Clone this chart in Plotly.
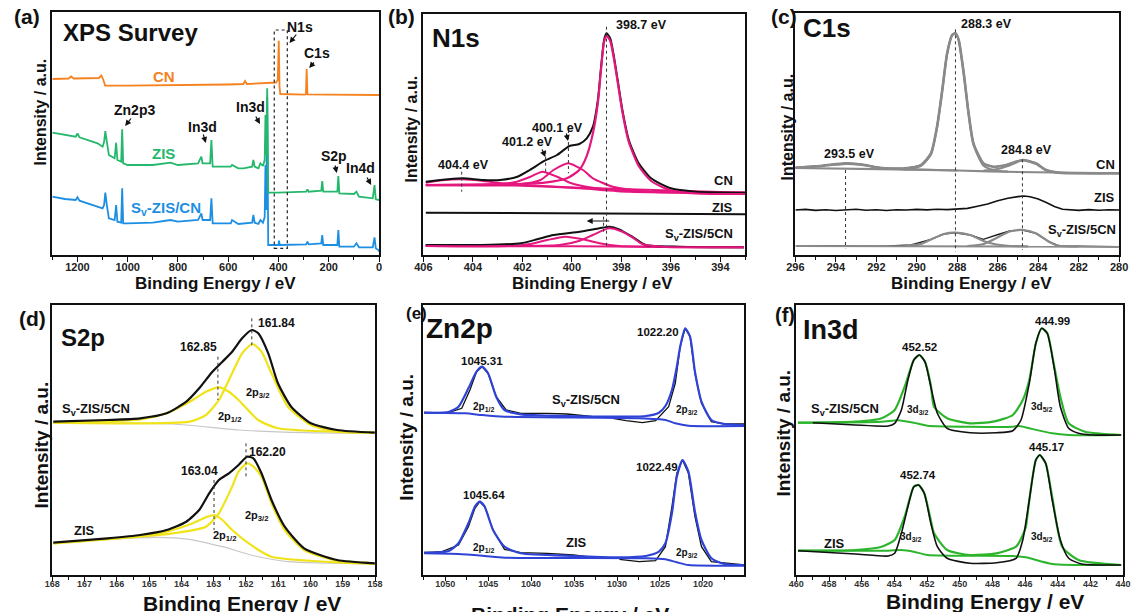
import plotly.graph_objects as go

W, H = 1138, 612
FONT = "Liberation Sans, Arial, Helvetica, sans-serif"

# ======================= DATA (binding energy eV, intensity a.u.) =======================
# (a) XPS survey
SURVEY_CN = [(1300, 176), (1235, 176.5), (1225, 178.5), (1215, 176.5), (1115, 177), (1105, 179.5),
             (1098, 176), (1090, 169.5), (1000, 169.3), (800, 169.7), (600, 170.5), (540, 171),
             (533, 174), (526, 171), (430, 171.7), (410, 172.5), (403, 175), (399, 214.3),
             (396, 168), (393, 161), (295, 160.3), (291, 161), (288, 186), (285, 160.7),
             (200, 160.3), (0, 160)]
SURVEY_ZIS = [(1300, 122.3), (1250, 120), (1207, 118.3), (1200, 121.5), (1192, 117.7), (1120, 111.7),
              (1100, 108.3), (1094, 113), (1089, 124), (1084, 115), (1075, 100), (1052, 96.7),
              (1046, 112.3), (1041, 95), (1026, 93.3), (1022, 125.7), (1018, 91.7), (1000, 90),
              (900, 90), (830, 92.3), (800, 90), (720, 91.7), (707, 98.3), (702, 91.7), (672, 91.7),
              (667, 115), (662, 88.3), (590, 88.3), (585, 90), (560, 86.7), (540, 86.7), (505, 88.3),
              (500, 95), (495, 88.3), (480, 86.7), (472, 91.7), (462, 89), (455, 95), (452, 140),
              (449, 100), (445, 166.7), (441, 62.3), (400, 62.3), (290, 63.3), (285, 65.7),
              (280, 63.3), (230, 64.3), (226, 74), (222, 63.3), (166, 63.3), (162, 79), (158, 61.7),
              (100, 61), (90, 63.3), (80, 58.3), (25, 56.7), (18, 70), (13, 55.7), (0, 55)]
SURVEY_SV = [(1300, 58.3), (1250, 56), (1207, 55), (1200, 57.7), (1192, 54.3), (1120, 48.3),
             (1100, 46.7), (1094, 50), (1089, 62.3), (1084, 51.7), (1075, 36.7), (1052, 35),
             (1046, 50), (1041, 33.3), (1026, 32.3), (1022, 66.7), (1018, 31.7), (1000, 31.7),
             (900, 32.3), (830, 35), (800, 33.3), (720, 35), (707, 41.7), (702, 35), (672, 35),
             (667, 56.7), (662, 31.7), (590, 31.7), (585, 35), (560, 31), (505, 32.3), (500, 40),
             (495, 32.3), (480, 31), (472, 35), (462, 32.3), (455, 38), (452, 90), (449, 45),
             (445, 158), (441, 10), (400, 10), (398, 14.3), (395, 10), (290, 10.7), (285, 13.3),
             (280, 10.7), (230, 11.7), (226, 20), (222, 10), (166, 10), (162, 25), (158, 8.3),
             (100, 8.3), (90, 11.7), (80, 7.7), (25, 7.7), (18, 17.7), (13, 6.7), (3, 5), (0, 3.3)]
SURVEY_BOX = (417, 365, 6.7, 225)

# (b) N1s
N1S_CN_ENV = [(405.9, 73.3), (405.0, 75.7), (404.4, 76.7), (403.6, 75.0), (402.9, 75.0), (402.2, 78.3),
              (401.7, 85.0), (401.1, 94.3), (400.6, 100.0), (400.1, 109.0), (399.7, 111.0),
              (399.4, 116.7), (399.15, 128.3), (398.95, 155.0), (398.82, 188.3), (398.7, 215.0),
              (398.6, 221.7), (398.45, 216.7), (398.3, 198.3), (398.15, 175.0), (397.96, 145.0),
              (397.7, 115.0), (397.3, 91.7), (396.8, 76.7), (396.0, 66.7), (395.0, 63.3), (393.0, 62.3)]
N1S_CN_C1 = [(405.9, 70), (402.2, 71), (401.1, 72.3), (400.2, 76.7), (399.7, 85), (399.41, 98.3),
             (399.15, 121.7), (398.95, 152), (398.82, 186), (398.7, 213), (398.6, 219), (398.45, 214),
             (398.3, 196), (398.15, 173), (397.96, 143), (397.7, 113), (397.3, 89), (396.8, 74),
             (396.0, 64.5), (395.0, 61.5), (393.0, 61)]
N1S_CN_C2 = [(405.9, 69.7), (402.1, 70.7), (401.27, 75), (400.74, 85), (400.15, 91.7), (399.55, 85),
             (399.15, 76.7), (398.35, 68.3), (396.9, 63.3), (393.0, 62.3)]
N1S_CN_C3 = [(405.9, 70), (403.2, 70.7), (402.33, 72.7), (401.67, 78.3), (401.2, 83.3), (400.6, 78.3),
             (400.08, 72.3), (399.15, 67.3), (396.9, 63.3), (393.0, 62.3)]
N1S_CN_C4 = [(405.9, 72.3), (405.25, 74.7), (404.45, 75.7), (403.65, 74.3), (402.86, 71.7),
             (402.1, 70.3), (399.7, 67.3), (393.0, 62.3)]
N1S_CN_BG = [(405.9, 69.7), (402.3, 69.5), (399.7, 66.7), (397.7, 63.3), (393.0, 62.3)]
N1S_ZIS = [(405.9, 42.3), (400.0, 41.7), (393.0, 40.7)]
N1S_SV_ENV = [(405.91, 10), (403.65, 10), (402.06, 11.7), (401.4, 15.7), (400.74, 20), (399.68, 23.3),
              (398.89, 26.7), (398.48, 28.3), (398.09, 25.7), (397.56, 18.3), (397.03, 10),
              (395.7, 8.3), (393.05, 7.7)]
N1S_SV_C1 = [(405.9, 9), (400.5, 10), (399.68, 14.3), (399.15, 20), (398.5, 26.7), (397.96, 23.3),
             (397.56, 17.7), (397.16, 11), (396.37, 8.3), (393.05, 7.7)]
N1S_SV_C2 = [(405.9, 9), (402.6, 9), (401.67, 11), (401.0, 15), (400.27, 18.3), (399.55, 15.7),
             (398.88, 11.7), (398.09, 9), (393.05, 7.7)]
N1S_SV_BG = [(405.9, 9), (400.0, 8.7), (393.05, 7.7)]
N1S_MARKS = [(398.6, 228.3, 6.7), (400.14, 125, 81.7), (401.06, 104.3, 81.7), (404.45, 83.3, 63.3),
             (398.72, 38.3, 21.7)]

# (c) C1s
C1S_CN_ENV = [(296.0, 87.3), (294.65, 89.3), (293.5, 91.7), (292.55, 90.0), (291.73, 86.7), (290.6, 86.7),
              (289.8, 90.0), (289.3, 101.7), (289.0, 128.3), (288.74, 165.0), (288.5, 201.7),
              (288.25, 220.0), (288.09, 221.7), (287.93, 215.0), (287.68, 181.7), (287.44, 141.7),
              (287.2, 111.7), (286.71, 91.7), (286.22, 88.3), (285.58, 90.0), (284.76, 95.0),
              (284.12, 91.7), (283.63, 85.0), (282.98, 82.3), (280.0, 81.7)]
C1S_CN_C1 = [(296.0, 87.5), (295.0, 88.7), (294.0, 90.3), (293.5, 91.0), (292.8, 90.3), (292.0, 88.0),
             (291.0, 86.0), (290.0, 85.5), (288.0, 84.5)]
C1S_CN_C2 = [(290.6, 85.5), (289.8, 89.0), (289.3, 100.5), (289.0, 127.5), (288.74, 164.5), (288.5, 201.5),
             (288.25, 220.0), (288.09, 221.7), (287.93, 215.0), (287.68, 181.5), (287.44, 141.0),
             (287.2, 110.5), (286.71, 89.5), (286.22, 85.0), (285.5, 83.3)]
C1S_CN_C3 = [(286.7, 84.3), (286.0, 86.0), (285.5, 89.0), (284.8, 94.5), (284.1, 91.0), (283.6, 85.0),
             (283.0, 82.5), (282.0, 82.0)]
C1S_CN_BG = [(296.0, 87.0), (291.0, 85.7), (288.0, 84.5), (285.0, 83.0), (280.0, 81.7)]
C1S_ZIS = [(296, 45), (295.5, 45.6), (295, 44.6), (294.5, 45.3), (294, 44.5), (293.5, 45.4), (293, 45.8),
           (292.5, 44.8), (292, 45.2), (291.5, 44.5), (291, 45.3), (290.5, 45.0), (290, 45.6),
           (289.5, 45.1), (289, 45.7), (288.5, 45.4), (288, 46.2), (287.5, 46.6), (287, 48.8),
           (286.5, 51), (286, 54.2), (285.5, 56.8), (285, 58.4), (284.7, 59), (284.4, 58.2), (284, 56),
           (283.6, 52.4), (283.2, 48.6), (282.8, 45.8), (282.4, 45.2), (282, 44.6), (281.5, 45.4),
           (281, 44.8), (280.5, 45.3), (280, 45)]
C1S_SV_ENV = [(295.95, 9), (294.5, 9.4), (293, 8.8), (291.41, 9), (290.28, 10), (289.3, 15.7),
              (288.66, 21), (288.09, 22.3), (287.36, 20), (286.71, 15.7), (286.06, 20), (285.41, 24),
              (284.76, 25), (284.12, 21.7), (283.47, 13.3), (282.98, 9), (282, 8.8), (281, 8.2),
              (280.06, 8.3)]
C1S_SV_C1 = [(290.6, 9), (289.8, 11), (289.3, 15.5), (288.66, 21), (288.09, 22.3), (287.36, 20),
             (286.71, 14), (286.06, 10.5), (285.4, 9), (284.5, 8.7)]
C1S_SV_C2 = [(287.5, 9), (286.7, 11), (286.06, 17), (285.41, 23.5), (284.76, 25), (284.12, 21.7),
             (283.47, 13.3), (282.98, 9.2), (282.0, 8.5)]
C1S_SV_BG = [(296.0, 9), (280.0, 8.3)]
C1S_MARKS = [(293.52, 85, 6.7), (288.09, 225.7, 3.3), (284.78, 95.7, 5)]

# (d) S2p
S2P_SV_ENV = [(167.97, 153.3), (166.29, 155), (165.28, 156.7), (164.46, 161.7), (163.85, 173.3),
              (163.45, 186.7), (163.04, 203.3), (162.73, 213.3), (162.43, 223.3), (162.12, 236.7),
              (161.82, 245), (161.62, 241.7), (161.31, 221.7), (161.01, 191.7), (160.6, 168.3),
              (159.99, 151.7), (159.18, 145), (158.01, 142.3)]
S2P_SV_32 = [(167.97, 152.3), (163.75, 153.3), (163.24, 160), (162.84, 175), (162.43, 201.7),
             (162.12, 221.7), (161.8, 231), (161.52, 223.3), (161.21, 201.7), (160.7, 168.3),
             (159.99, 150), (159.18, 143.3), (158.01, 142.3)]
S2P_SV_12 = [(167.97, 152.3), (165.28, 155.7), (164.46, 161.7), (163.65, 175), (163.24, 183.3),
             (162.84, 187.7), (162.53, 183.3), (162.23, 175), (161.62, 155), (161.01, 146.7),
             (158.01, 142.3)]
S2P_SV_BG = [(167.97, 152.3), (164.26, 151), (162.23, 145), (160.2, 142.3), (158.01, 141.7)]
S2P_ZIS_ENV = [(167.97, 32.3), (166.29, 36.7), (165.28, 40), (164.46, 45), (163.85, 53.3), (163.45, 65),
               (163.14, 81.7), (162.84, 95), (162.53, 101.7), (162.23, 110), (161.97, 118.3),
               (161.77, 116.7), (161.52, 101.7), (161.21, 75), (160.8, 48.3), (160.2, 26.7),
               (159.18, 15), (158.01, 11.7)]
S2P_ZIS_32 = [(167.97, 31.7), (164.26, 41.7), (163.24, 48.3), (162.84, 61.7), (162.43, 88.3),
              (162.23, 103.3), (161.97, 111.7), (161.77, 108.3), (161.52, 98.3), (161.21, 71.7),
              (160.8, 45), (160.2, 25), (159.18, 14.3), (158.01, 11.7)]
S2P_ZIS_12 = [(167.97, 31.7), (165.28, 39), (164.46, 43.3), (163.65, 51.7), (163.24, 57.7),
              (162.99, 60), (162.73, 55), (162.43, 45), (161.77, 28.3), (161.21, 18.3), (158.01, 11)]
S2P_ZIS_BG = [(167.97, 31.7), (166.29, 35.7), (164.77, 37.7), (163.75, 35.7), (162.73, 28.3),
              (161.72, 19), (160.7, 13.3), (158.01, 11)]
S2P_MARKS = [(161.82, 256.7, 226.7), (162.87, 218.3, 175), (162.0, 131.7, 98.3), (162.99, 95, 45)]

# (e) Zn2p
ZN_SV_DATA = [(1052.46, 162.3), (1049.6, 162.3), (1048.07, 166.7), (1047.12, 185), (1046.35, 203.3),
              (1045.7, 208.3), (1045.01, 201.7), (1044.06, 178.3), (1042.91, 165), (1041.19, 161.7),
              (1038.13, 161.7), (1035.83, 161), (1033.54, 159), (1032.02, 157.7), None,
              (1030.49, 156.7), (1028.95, 154.3), (1027.05, 152.3), (1025.51, 154.3), (1023.99, 168.3),
              (1023.22, 191.7), (1022.65, 228.3), (1022.07, 246.7), (1021.5, 238.3), (1020.93, 201.7),
              (1020.17, 171.7), (1019.02, 153.3), (1017.48, 151), (1015.19, 151)]
ZN_SV_ENV = [(1052.46, 162.3), (1049.6, 163), (1048.45, 168.3), (1047.3, 186.7), (1046.35, 203.3),
             (1045.7, 208.3), (1045.01, 201.7), (1044.06, 178.3), (1043.1, 165), (1041.19, 160.7),
             (1035.83, 159), (1030.49, 158.3), (1026.66, 159), (1025.13, 162.3), (1024.37, 169),
             (1023.61, 185), (1023.04, 208.3), (1022.65, 228.3), (1022.07, 246.7), (1021.5, 238.3),
             (1020.93, 203.3), (1020.17, 173.3), (1019.02, 155), (1017.48, 151), (1015.19, 150)]
ZN_SV_BG = [(1052.46, 162.3), (1047.69, 161.7), (1045.7, 160), (1043.1, 158.3), (1027.43, 156.7),
            (1024.37, 155), (1023.22, 151.7), (1021.69, 149.3), (1015.19, 149)]
ZN_ZIS_DATA = [(1052.46, 22.3), (1050.36, 23.3), (1048.45, 30), (1047.3, 48.3), (1046.54, 66.7),
               (1045.97, 73.3), (1045.4, 68.3), (1044.43, 45), (1043.1, 25.7), (1041.19, 22.3),
               (1038.13, 21.7), (1035.08, 20), (1032.78, 17.7), None, (1029.72, 15.7),
               (1027.43, 13.3), (1025.51, 14.3), (1024.37, 28.3), (1023.61, 68.3), (1023.04, 101.7),
               (1022.38, 115), (1021.69, 101.7), (1020.93, 58.3), (1020.17, 28.3), (1019.02, 13.3),
               (1015.19, 10)]
ZN_ZIS_ENV = [(1052.46, 22.3), (1049.6, 24), (1048.45, 31.7), (1047.3, 51.7), (1046.54, 68.3),
              (1045.97, 73.3), (1045.4, 68.3), (1044.43, 45), (1043.1, 28.3), (1041.19, 21.7),
              (1035.08, 19), (1029.72, 17.7), (1026.66, 19), (1025.13, 23.3), (1024.37, 31.7),
              (1023.61, 61.7), (1023.04, 98.3), (1022.38, 115), (1021.69, 103.3), (1020.93, 63.3),
              (1020.17, 35), (1019.02, 16.7), (1017.48, 11), (1015.19, 10)]
ZN_ZIS_BG = [(1052.46, 21.7), (1048.45, 21), (1045.4, 19), (1043.1, 17.3), (1026.66, 16.7),
             (1024.37, 15.7), (1023.04, 12.7), (1021.69, 10), (1015.19, 9.3)]

# (f) In3d
IN_SV_DATA = [(458.99, 152.3), (456.39, 150), (454.38, 149), (453.98, 151.7), (453.57, 165), (453.17, 195),
              (452.81, 215), (452.47, 220), (452.13, 213.3), (451.77, 188.3), (451.37, 161.7),
              (450.77, 146.7), (449.36, 142.3), (447.75, 142.3), (446.75, 144.3), (446.25, 155),
              (445.74, 191.7), (445.34, 231.7), (444.98, 246.7), (444.64, 241.7), (444.23, 208.3),
              (443.84, 168.3), (443.33, 146.7), (442.73, 141.7), (441.93, 140), (440.12, 140)]
IN_SV_ENV = [(459.9, 152.3), (456.39, 153.3), (454.78, 156.7), (453.98, 165), (453.37, 188.3),
             (452.81, 215), (452.47, 220), (452.13, 213.3), (451.77, 190), (451.57, 168.3),
             (450.77, 156.7), (449.36, 151.7), (447.95, 153.3), (446.75, 160), (446.14, 175),
             (445.74, 195), (445.34, 231.7), (444.98, 246.7), (444.64, 241.7), (444.23, 210),
             (443.84, 178.3), (443.33, 151.7), (442.33, 143.3), (440.12, 140)]
IN_SV_BG = [(459.9, 152.3), (454.78, 153.3), (453.78, 154.7), (452.81, 152.3), (451.97, 149.3),
            (449.36, 148.3), (446.75, 148.3), (446.34, 149), (445.74, 146.7), (444.34, 141.7),
            (443.33, 140), (440.12, 140)]
IN_ZIS_DATA = [(459.9, 24.3), (456.39, 21), (454.38, 19), (453.98, 21.7), (453.57, 41.7), (453.17, 68.3),
               (452.81, 88.3), (452.51, 90), (452.17, 81.7), (451.77, 51.7), (451.37, 28.3),
               (450.77, 16.7), (449.36, 11.7), (447.75, 12.3), (446.55, 16.7), (446.14, 35),
               (445.74, 75), (445.34, 115), (445.1, 120), (444.74, 111.7), (444.34, 75), (443.84, 35),
               (443.33, 16.7), (442.53, 11), (440.12, 10)]
IN_ZIS_ENV = [(459.9, 24.3), (456.39, 25), (454.78, 28.3), (453.98, 35), (453.37, 58.3), (452.81, 88.3),
              (452.51, 90), (452.17, 81.7), (451.77, 55), (451.57, 41.7), (450.77, 25), (449.36, 20),
              (447.75, 21.7), (446.55, 28.3), (446.14, 40), (445.95, 48.3), (445.74, 75), (445.34, 115),
              (445.1, 120), (444.74, 111.7), (444.34, 78.3), (443.73, 28.3), (442.73, 15), (440.12, 10)]
IN_ZIS_BG = [(459.9, 24.3), (454.38, 24.3), (453.57, 25), (452.81, 23.3), (451.97, 20), (446.75, 19),
             (445.95, 17.7), (444.34, 11), (440.12, 10)]

# tick settings per panel: x range, major step, minor step
X_RANGES = {1: [1300, 0], 2: [406, 393], 3: [296, 280], 4: [168, 158], 5: [1052.6, 1015.2], 6: [460, 440]}
Y_RANGES = {1: [0, 243], 2: [0, 241], 3: [0, 242], 4: [0, 270], 5: [0, 270], 6: [0, 270]}
X_TICKS = {1: (200, 100), 2: (2, 1), 3: (2, 1), 4: (1, 0.5), 5: (5, 2.5), 6: (2, 1)}

# colours
C_ORANGE = "#f5821f"
C_GREEN = "#25b86c"
C_BLUE = "#1c8fe3"
C_PINK = "#e5177f"
C_GREY = "#8a8a8a"
C_YELLOW = "#f0e31a"
C_ZNBLUE = "#2f43d6"
C_INGREEN = "#2cb52c"

# ======================= LAYOUT (pixel boxes) =======================
BOX = {1: (44, 376, 12, 255), 2: (421, 748, 14, 255), 3: (799, 1128, 13, 255),
       4: (44, 372, 305, 575), 5: (420.5, 747, 305, 575), 6: (800, 1132, 305, 575)}


def P(x, y):
    return x / W, 1 - y / H


fig = go.Figure()


def add(i, pts, color, width=2.0, shape="spline", dash=None, smoothing=0.6):
    xs = [p[0] if p is not None else None for p in pts]
    ys = [p[1] if p is not None else None for p in pts]
    ln = dict(color=color, width=width, shape=shape)
    if shape == "spline":
        ln["smoothing"] = smoothing
    if dash:
        ln["dash"] = dash
    fig.add_trace(go.Scatter(x=xs, y=ys, mode="lines", line=ln, hoverinfo="skip",
                             xaxis="x" if i == 1 else f"x{i}", yaxis="y" if i == 1 else f"y{i}",
                             showlegend=False, connectgaps=False))


def marks(i, items):
    xs, ys = [], []
    for ev, top, bot in items:
        xs += [ev, ev, None]
        ys += [top, bot, None]
    fig.add_trace(go.Scatter(x=xs, y=ys, mode="lines", line=dict(color="#333", width=1, dash="dot"),
                             hoverinfo="skip", xaxis="x" if i == 1 else f"x{i}",
                             yaxis="y" if i == 1 else f"y{i}", showlegend=False))


# (a)
add(1, SURVEY_SV, C_BLUE, 1.8, "linear")
add(1, SURVEY_ZIS, C_GREEN, 1.8, "linear")
add(1, SURVEY_CN, C_ORANGE, 1.8, "linear")
x0, x1, y0, y1 = SURVEY_BOX
fig.add_shape(type="rect", xref="x", yref="y", x0=x0, x1=x1, y0=y0, y1=y1,
              line=dict(color="#222", width=1.2, dash="dot"))

# (b)
for comp in (N1S_CN_BG, N1S_CN_C4, N1S_CN_C3, N1S_CN_C2):
    add(2, comp, C_PINK, 2)
add(2, N1S_CN_ENV, "#111", 2)
add(2, N1S_CN_C1, C_PINK, 2.2)
add(2, N1S_ZIS, "#111", 2, "linear")
for comp in (N1S_SV_BG, N1S_SV_C2):
    add(2, comp, C_PINK, 2)
add(2, N1S_SV_ENV, "#111", 2)
add(2, N1S_SV_C1, C_PINK, 2)
marks(2, N1S_MARKS)

# (c)
add(3, C1S_CN_ENV, "#111", 1.5)
for comp in (C1S_CN_BG, C1S_CN_C1, C1S_CN_C3, C1S_CN_C2):
    add(3, comp, C_GREY, 2.2)
add(3, C1S_CN_ENV, C_GREY, 2.6)
add(3, C1S_ZIS, "#111", 1.6, "linear")
add(3, C1S_SV_ENV, "#222", 1.4, "linear")
for comp in (C1S_SV_BG, C1S_SV_C1, C1S_SV_C2):
    add(3, comp, C_GREY, 2.2)
marks(3, C1S_MARKS)

# (d)
add(4, S2P_SV_BG, "#c8c8c8", 1.2)
add(4, S2P_SV_12, C_YELLOW, 2.2)
add(4, S2P_SV_32, C_YELLOW, 2.2)
add(4, S2P_SV_ENV, "#111", 2.2)
add(4, S2P_ZIS_BG, "#c8c8c8", 1.2)
add(4, S2P_ZIS_12, C_YELLOW, 2.2)
add(4, S2P_ZIS_32, C_YELLOW, 2.2)
add(4, S2P_ZIS_ENV, "#111", 2.2)
marks(4, S2P_MARKS)

# (e)
add(5, ZN_SV_DATA, "#111", 1.3, "linear")
add(5, ZN_SV_BG, C_ZNBLUE, 2)
add(5, ZN_SV_ENV, C_ZNBLUE, 2.2)
add(5, ZN_ZIS_DATA, "#111", 1.3, "linear")
add(5, ZN_ZIS_BG, C_ZNBLUE, 2)
add(5, ZN_ZIS_ENV, C_ZNBLUE, 2.2)

# (f)
add(6, IN_SV_BG, C_INGREEN, 2)
add(6, IN_SV_ENV, C_INGREEN, 2.2)
add(6, IN_SV_DATA, "#111", 1.6)
add(6, IN_ZIS_BG, C_INGREEN, 2)
add(6, IN_ZIS_ENV, C_INGREEN, 2.2)
add(6, IN_ZIS_DATA, "#111", 1.6)

# axes
layout = {}
for i in range(1, 7):
    xl, xr, yt, yb = BOX[i]
    top_row = i <= 3
    major, minor = X_TICKS[i]
    xk = "xaxis" if i == 1 else f"xaxis{i}"
    yk = "yaxis" if i == 1 else f"yaxis{i}"
    layout[xk] = dict(
        domain=[xl / W, xr / W], anchor="y" if i == 1 else f"y{i}", range=X_RANGES[i],
        showline=True, mirror=True, linecolor="#111", linewidth=1.6, showgrid=False, zeroline=False,
        ticks="outside", ticklen=5 if top_row else 4, tickwidth=1.3, tickcolor="#111",
        dtick=major, tick0=0, ticklabelstandoff=-4 if top_row else -5,
        minor=dict(dtick=minor, ticks="outside", ticklen=3, tickwidth=1, tickcolor="#111", showgrid=False),
        tickfont=dict(family=FONT, size=11 if top_row else 9, color="#222" if top_row else "#333",
                      weight="bold"),
        fixedrange=True,
    )
    layout[yk] = dict(
        domain=[1 - yb / H, 1 - yt / H], anchor="x" if i == 1 else f"x{i}", range=Y_RANGES[i],
        showline=True, mirror=True, linecolor="#111", linewidth=1.6, showgrid=False, zeroline=False,
        showticklabels=False, ticks="", fixedrange=True,
    )

ann = []


def T(x, y, text, size, color="#111", anchor="center", angle=0):
    px, py = P(x, y)
    ann.append(dict(x=px, y=py, xref="paper", yref="paper", text=f"<b>{text}</b>", showarrow=False,
                    xanchor=anchor, yanchor="middle", textangle=angle,
                    font=dict(family=FONT, size=size, color=color)))


def A(tx, ty, hx, hy):
    px, py = P(hx, hy)
    ann.append(dict(x=px, y=py, xref="paper", yref="paper", text="", showarrow=True,
                    ax=tx - hx, ay=ty - hy, axref="pixel", ayref="pixel",
                    arrowhead=2, arrowsize=1, arrowwidth=1.2, arrowcolor="#111"))


# panel letters & titles
T(18, 16, "(a)", 21); T(123, 32, "XPS Survey", 24)
T(399, 16, "(b)", 21); T(454, 38, "N1s", 26)
T(787, 16, "(c)", 21); T(831, 28, "C1s", 26)
T(24, 318, "(d)", 21); T(75, 337, "S2p", 24)
T(414, 313, "(e)", 17); T(458, 328, "Zn2p", 28)
T(788, 315, "(f)", 20); T(835, 330, "In3d", 27)

# axis titles
for x, y in [(32, 112), (408, 129), (790, 127)]:
    T(x, y, "Intensity / a.u.", 16, angle=-90)
for x, y in [(33, 445), (403, 437), (786, 433)]:
    T(x, y, "Intensity / a.u.", 19, angle=-90)
for x, y in [(210, 283), (593, 283), (978, 283)]:
    T(x, y, "Binding Energy / eV", 17)
for x, y in [(237, 603), (570, 614), (992, 601)]:
    T(x, y, "Binding Energy / eV", 21)

# (a) labels
T(296, 27, "N1s", 14); A(293, 33, 285, 43)
T(313, 53, "C1s", 14); A(311, 61, 305, 68)
T(128, 110, "Zn2p3", 14); A(125, 117, 118, 126)
T(197, 127, "In3d", 14); A(197, 133, 200, 143)
T(245, 107, "In3d", 14); A(250, 115, 255, 124)
T(330, 156, "S2p", 14); A(331, 164, 333, 173)
T(357, 168, "In4d", 14); A(363, 176, 368, 185)
T(157, 76, "CN", 15, C_ORANGE)
T(157, 153, "ZIS", 15, C_GREEN)
T(160, 208, "S<sub>v</sub>-ZIS/CN", 15, C_BLUE)

# (b) labels
T(643, 25, "398.7 eV", 12.5)
T(557, 128, "400.1 eV", 12.5); A(566, 132, 568, 141)
T(527, 142, "401.2 eV", 12.5); A(541, 148, 545, 157)
T(462, 165, "404.4 eV", 12.5)
T(738, 180, "CN", 13, anchor="right")
T(738, 207, "ZIS", 13, anchor="right")
T(738, 235, "S<sub>v</sub>-ZIS/5CN", 13, anchor="right")
A(611, 221, 587, 221)

# (c) labels
T(993, 24, "288.3 eV", 12.5)
T(854, 154, "293.5 eV", 12.5)
T(1034, 150, "284.8 eV", 12.5)
T(1126, 165, "CN", 13, anchor="right")
T(1126, 198, "ZIS", 13, anchor="right")
T(1127, 230, "S<sub>v</sub>-ZIS/5CN", 13, anchor="right")

# (d) labels
T(272, 323, "161.84", 12)
T(193, 347, "162.85", 12)
T(263, 452, "162.20", 12)
T(194, 471, "163.04", 12)
T(253, 393, "2p<sub>3/2</sub>", 11)
T(225, 417, "2p<sub>1/2</sub>", 11)
T(252, 516, "2p<sub>3/2</sub>", 11)
T(219, 536, "2p<sub>1/2</sub>", 11)
T(88, 410, "S<sub>v</sub>-ZIS/5CN", 13)
T(77, 530, "ZIS", 13)

# (e) labels
T(659, 332, "1022.20", 11.5)
T(481, 361, "1045.31", 11.5)
T(483, 407, "2p<sub>1/2</sub>", 10)
T(586, 400, "S<sub>v</sub>-ZIS/5CN", 13)
T(689, 410, "2p<sub>3/2</sub>", 10)
T(658, 467, "1022.49", 11.5)
T(483, 495, "1045.64", 11.5)
T(483, 548, "2p<sub>1/2</sub>", 10)
T(577, 542, "ZIS", 13)
T(689, 553, "2p<sub>3/2</sub>", 10)

# (f) labels
T(1060, 321, "444.99", 11.5)
T(925, 347, "452.52", 11.5)
T(924, 410, "3d<sub>3/2</sub>", 10)
T(1050, 407, "3d<sub>5/2</sub>", 10)
T(849, 410, "S<sub>v</sub>-ZIS/5CN", 13)
T(1054, 447, "445.17", 11.5)
T(924, 475, "452.74", 11.5)
T(917, 537, "3d<sub>3/2</sub>", 10)
T(1050, 537, "3d<sub>5/2</sub>", 10)
T(839, 543, "ZIS", 13)

fig.update_layout(
    width=W, height=H, margin=dict(l=0, r=0, t=0, b=0),
    paper_bgcolor="white", plot_bgcolor="white",
    font=dict(family=FONT, color="#111"),
    showlegend=False, annotations=ann, **layout,
)

fig.write_html("out.html", config={"displayModeBar": False},
               post_script="document.body.style.margin='0px';document.body.style.padding='0px';")
